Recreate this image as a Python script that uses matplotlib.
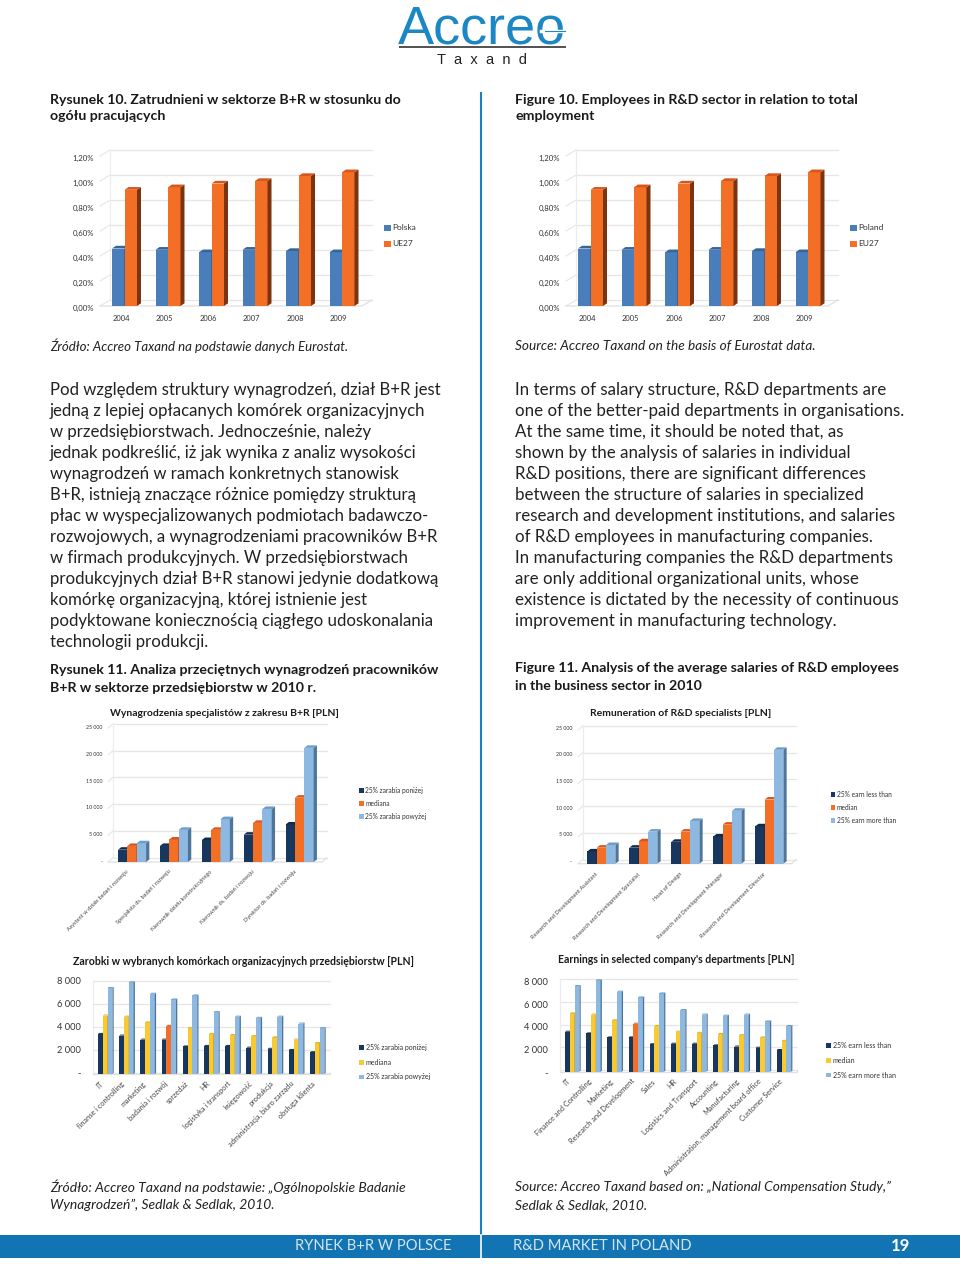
import matplotlib

matplotlib.use("Agg")
import matplotlib.pyplot as plt
from matplotlib.patches import Polygon, Rectangle

W, H = 960, 1264
BODY_FONT = "Lato"

# employment share, %
years = ["2004", "2005", "2006", "2007", "2008", "2009"]
poland_share = [0.46, 0.45, 0.43, 0.45, 0.44, 0.43]
eu27_share = [0.93, 0.95, 0.98, 1.00, 1.04, 1.07]
share_ticks = [0, 0.2, 0.4, 0.6, 0.8, 1.0, 1.2]
share_labels = ["0,00%", "0,20%", "0,40%", "0,60%", "0,80%", "1,00%", "1,20%"]

# salaries by position
positions_pl = ["Asystent w dziale badań i rozwoju", "Specjalista ds. badań i rozwoju",
                "Kierownik działu konstrukcyjnego", "Kierownik ds. badań i rozwoju",
                "Dyrektor ds. badań i rozwoju"]
positions_en = ["Research and Development Assistant", "Research and Development Specialist",
                "Head of Design", "Research and Development Manager",
                "Research and Development Director"]
pos_low = [2300, 3000, 4100, 5100, 7000]
pos_median = [3000, 4200, 6000, 7300, 12000]
pos_high = [3500, 6000, 8000, 9900, 21300]
pos_ticks = [0, 5000, 10000, 15000, 20000, 25000]
pos_labels = ["-", "5 000", "10 000", "15 000", "20 000", "25 000"]

# salaries by department
depts_pl = ["IT", "finanse i controlling", "marketing", "badania i rozwój", "sprzedaż", "HR",
            "logistyka i transport", "księgowość", "produkcja",
            "administracja, biuro zarządu", "obsługa klienta"]
depts_en = ["IT", "Finance and Controlling", "Marketing", "Research and Development", "Sales", "HR",
            "Logistics and Transport", "Accounting", "Manufacturing",
            "Administration, management board office", "Customer Service"]
dept_low = [3500, 3350, 3000, 3000, 2400, 2450, 2450, 2300, 2200, 2100, 1900]
dept_median = [5100, 5000, 4500, 4200, 4000, 3500, 3400, 3300, 3200, 3000, 2700]
dept_high = [7500, 8000, 7000, 6500, 6850, 5400, 5000, 4900, 5000, 4400, 4000]
dept_ticks = [0, 2000, 4000, 6000, 8000]
dept_labels = ["-", "2 000", "4 000", "6 000", "8 000"]

legend_pl = ["25% zarabia poniżej", "mediana", "25% zarabia powyżej"]
legend_en = ["25% earn less than", "median", "25% earn more than"]

# (front, top, side)
BLUE = ("#4a7ebb", "#36659c", "#2b4c75")
ORANGE = ("#f36f26", "#d8561c", "#7a3411")
NAVY = ("#17375e", "#102a4a", "#0e2340")
LIGHT = ("#8db8e2", "#6d9cc6", "#4f7699")
YELLOW = ("#f8c932", "#e0ae22", "#a08020")

LEFT_PL = [
    "Pod względem struktury wynagrodzeń, dział B+R jest",
    "jedną z lepiej opłacanych komórek organizacyjnych",
    "w przedsiębiorstwach. Jednocześnie, należy",
    "jednak podkreślić, iż jak wynika z analiz wysokości",
    "wynagrodzeń w ramach konkretnych stanowisk",
    "B+R, istnieją znaczące różnice pomiędzy strukturą",
    "płac w wyspecjalizowanych podmiotach badawczo-",
    "rozwojowych, a wynagrodzeniami pracowników B+R",
    "w firmach produkcyjnych. W przedsiębiorstwach",
    "produkcyjnych dział B+R stanowi jedynie dodatkową",
    "komórkę organizacyjną, której istnienie jest",
    "podyktowane koniecznością ciągłego udoskonalania",
    "technologii produkcji.",
]
RIGHT_EN = [
    "In terms of salary structure, R&D departments are",
    "one of the better-paid departments in organisations.",
    "At the same time, it should be noted that, as",
    "shown by the analysis of salaries in individual",
    "R&D positions, there are significant differences",
    "between the structure of salaries in specialized",
    "research and development institutions, and salaries",
    "of R&D employees in manufacturing companies.",
    "In manufacturing companies the R&D departments",
    "are only additional organizational units, whose",
    "existence is dictated by the necessity of continuous",
    "improvement in manufacturing technology.",
]


def bars_3d(fig, box, start, spacing, bar_w, series, colors, ticks, tick_labels, cats, opts):
    # box = left, top, right, bottom in image pixels, the bottom is value 0
    left, top, right, bottom = box
    ymax = ticks[-1]
    ax = fig.add_axes([left / W, 1 - bottom / H, (right - left) / W, (bottom - top) / H])
    ax.set_xlim((left - start) / spacing, (right - start) / spacing)
    ax.set_ylim(0, ymax)
    ax.axis("off")
    px_y = ymax / (bottom - top)
    to_x = lambda p: (p - start) / spacing
    bw = bar_w / spacing
    dx, dy = opts["depth"][0] / spacing, opts["depth"][1] * px_y
    wall_l, wall_r = to_x(opts["wall"][0]), to_x(opts["wall"][1])
    back = opts["back"] * px_y
    back_x = opts["back_x"] / spacing

    for t in ticks:
        ax.plot([wall_l, wall_r], [t + back, t + back], color="#e6e6e6", lw=0.9, clip_on=False, zorder=1)
        ax.plot([wall_l - back_x, wall_l], [t, t + back], color="#e6e6e6", lw=0.8, clip_on=False, zorder=1)
    ax.plot([wall_l, wall_l], [back, ymax + back], color="#ececec", lw=0.8, clip_on=False, zorder=1)
    ax.plot([wall_l - back_x, wall_r - back_x, wall_r], [0, 0, back], color="#e0e0e0", lw=0.9, clip_on=False, zorder=1)

    for t, lab in zip(ticks, tick_labels):
        ax.text(to_x(opts["tick_x"]), t - opts["tick_dy"] * px_y, lab, ha="right", va="center",
                fontsize=opts["tick_fs"], color="#333333")

    for k, (vals, col) in enumerate(zip(series, colors)):
        xs = [i + k * bw for i in range(len(vals))]
        ax.bar(xs, vals, width=bw, align="edge", color=col[0], zorder=3 + k, clip_on=False)
        for n, (x, v) in enumerate(zip(xs, vals)):
            c = col
            if opts.get("accent") == (k, n):
                c = ORANGE
                ax.bar([x], [v], width=bw, align="edge", color=c[0], zorder=3 + k, clip_on=False)
            ax.add_patch(Polygon([(x + bw, 0), (x + bw + dx, dy), (x + bw + dx, v + dy), (x + bw, v)],
                                 color=c[2], lw=0, zorder=3 + k, clip_on=False))
            ax.add_patch(Polygon([(x, v), (x + dx, v + dy), (x + bw + dx, v + dy), (x + bw, v)],
                                 color=c[1], lw=0, zorder=3 + k, clip_on=False))

    n_ser = len(series)
    for i, cat in enumerate(cats):
        if opts.get("flat_labels"):
            ax.text(i + n_ser * bw / 2 - 0.08, -opts["cat_dy"] * px_y, cat, ha="center", va="center",
                    fontsize=opts["cat_fs"], color="#333333")
        else:
            ax.text(i + opts["cat_dx"] / spacing, -opts["cat_dy"] * px_y, cat, ha="right", va="top",
                    rotation=45, rotation_mode="anchor", fontsize=opts["cat_fs"], color="#444444")
    return ax


def legend(bg, x, ys, size, labels, colors, fs, gap):
    for y, lab, col in zip(ys, labels, colors):
        bg.add_patch(Rectangle((x, y - size / 2), size, size, color=col[0], lw=0))
        bg.text(x + size + gap, y, lab, va="center", ha="left", fontsize=fs, color="#333333")


def main():
    plt.rcParams["font.family"] = [BODY_FONT, "DejaVu Sans"]
    fig = plt.figure(figsize=(W / 100, H / 100), dpi=100)
    bg = fig.add_axes([0, 0, 1, 1])
    bg.set_xlim(0, W)
    bg.set_ylim(H, 0)
    bg.axis("off")

    # logo
    bg.text(482, 44, "Accreo", ha="center", va="baseline", fontsize=39, color="#1b87c4", family="Liberation Sans")
    bg.plot([541, 567], [31, 31], color="white", lw=2.5, zorder=5)
    bg.plot([545, 565], [31, 31], color="#1b87c4", lw=0.8, zorder=6)
    bg.add_patch(Rectangle((399, 46), 167, 2.2, color="#555555", lw=0))
    bg.text(482, 60, "T  a  x  a  n  d", ha="center", va="center", fontsize=10.5, color="#222222",
            family="Liberation Sans")

    # column divider and footer
    bg.plot([481, 481], [93, 1235], color="#1b82c0", lw=1.5)
    bg.add_patch(Rectangle((0, 1235), W, 23, color="#1274b2", lw=0))
    bg.plot([481, 481], [1235, 1258], color="white", lw=1.2)
    bg.text(295, 1246, "RYNEK B+R W POLSCE", va="center", fontsize=10.6, color="#d5e6f2")
    bg.text(513, 1246, "R&D MARKET IN POLAND", va="center", fontsize=10.6, color="#d5e6f2")
    bg.text(891, 1246, "19", va="center", fontsize=12, color="white", fontweight="bold")

    # headings
    for x, y, s in [(50, 99, "Rysunek 10. Zatrudnieni w sektorze B+R w stosunku do"),
                    (50, 116, "ogółu pracujących"),
                    (515, 99, "Figure 10. Employees in R&D sector in relation to total"),
                    (515, 116, "employment"),
                    (50, 669, "Rysunek 11. Analiza przeciętnych wynagrodzeń pracowników"),
                    (50, 687, "B+R w sektorze przedsiębiorstw w 2010 r."),
                    (515, 667, "Figure 11. Analysis of the average salaries of R&D employees"),
                    (515, 685, "in the business sector in 2010")]:
        bg.text(x, y + 0.5, s, va="center", fontsize=10.2, fontweight="bold", color="#1a1a1a")

    # captions
    for x, y, s, fs in [(50, 346, "Źródło: Accreo Taxand na podstawie danych Eurostat.", 9.5),
                        (515, 346, "Source: Accreo Taxand on the basis of Eurostat data.", 9.85),
                        (50, 1187, "Źródło: Accreo Taxand na podstawie: „Ogólnopolskie Badanie", 10),
                        (50, 1205, "Wynagrodzeń”, Sedlak & Sedlak, 2010.", 10),
                        (515, 1187, "Source: Accreo Taxand based on: „National Compensation Study,”", 9.9),
                        (515, 1205, "Sedlak & Sedlak, 2010.", 9.9)]:
        bg.text(x, y, s, va="center", fontsize=fs, style="italic", color="#222222")

    for i, s in enumerate(LEFT_PL):
        bg.text(50, 390 + 21 * i, s, va="center", fontsize=12.05, color="#222222")
    for i, s in enumerate(RIGHT_EN):
        bg.text(515, 390 + 21 * i, s, va="center", fontsize=12.15, color="#222222")

    # chart 1 pair
    for shift, names in [(0, ["Polska", "UE27"]), (466, ["Poland", "EU27"])]:
        opts = dict(depth=(4, 2.7), wall=(110 + shift, 372 + shift), back=6, back_x=10,
                    tick_x=94 + shift, tick_dy=2.5, tick_fs=5.6, flat_labels=True, cat_dy=12.5, cat_fs=5.4)
        bars_3d(fig, (100 + shift, 156, 372 + shift, 306), 112 + shift, 43.5, 12.5,
                [poland_share, eu27_share], [BLUE, ORANGE], share_ticks, share_labels, years, opts)
        legend(bg, 384 + shift, [228, 244], 6.5, names, [BLUE, ORANGE], 6, 2)

    # chart 2 pair
    opts = dict(depth=(3.3, 2.5), wall=(112.7, 326.7), back=4.2, back_x=4.5, tick_x=102.7, tick_dy=-0.5,
                tick_fs=3.75, cat_dx=8, cat_dy=7, cat_fs=4.1)
    bars_3d(fig, (100, 728, 327, 862), 118, 41.9, 9.35,
            [pos_low, pos_median, pos_high], [NAVY, ORANGE, LIGHT], pos_ticks, pos_labels, positions_pl, opts)
    bg.text(110, 713.5, "Wynagrodzenia specjalistów z zakresu B+R [PLN]", va="center", fontsize=7.5,
            fontweight="bold", color="#1a1a1a")
    legend(bg, 359, [790.7, 803.7, 816.3], 4.8, legend_pl, [NAVY, ORANGE, LIGHT], 4.8, 1.5)

    opts = dict(depth=(3.3, 2.5), wall=(582.7, 796), back=4.2, back_x=4.5, tick_x=572, tick_dy=-2, tick_fs=3.75,
                cat_dx=8, cat_dy=8, cat_fs=4.1)
    bars_3d(fig, (570, 730, 796, 863.7), 587.3, 42, 9.35,
            [pos_low, pos_median, pos_high], [NAVY, ORANGE, LIGHT], pos_ticks, pos_labels, positions_en, opts)
    bg.text(681, 713.5, "Remuneration of R&D specialists [PLN]", ha="center", va="center", fontsize=7.5,
            fontweight="bold", color="#1a1a1a")
    legend(bg, 830.7, [794.7, 807.3, 820.3], 4.6, legend_en, [NAVY, ORANGE, LIGHT], 4.8, 1.5)

    # chart 3 pair
    opts = dict(depth=(1.3, 1.0), wall=(93.3, 330), back=1.5, back_x=0, tick_x=81, tick_dy=-0.3, tick_fs=6.7,
                cat_dx=2, cat_dy=6, cat_fs=5.3, accent=(1, 3))
    bars_3d(fig, (88, 982.3, 330, 1074), 98, 21.2, 4.8,
            [dept_low, dept_median, dept_high], [NAVY, YELLOW, LIGHT], dept_ticks, dept_labels, depts_pl, opts)
    bg.text(72.7, 961.7, "Zarobki w wybranych komórkach organizacyjnych przedsiębiorstw [PLN]", va="center",
            fontsize=7.6, fontweight="bold", color="#1a1a1a")
    legend(bg, 359, [1047.7, 1062.7, 1077], 4.8, legend_pl, [NAVY, YELLOW, LIGHT], 5, 2)

    opts = dict(depth=(1.3, 1.0), wall=(560, 796.7), back=1.5, back_x=0, tick_x=547.7, tick_dy=2, tick_fs=6.7,
                cat_dx=2, cat_dy=6, cat_fs=5.3, accent=(1, 3))
    bars_3d(fig, (555, 980.3, 797, 1071.7), 565, 21.17, 4.8,
            [dept_low, dept_median, dept_high], [NAVY, YELLOW, LIGHT], dept_ticks, dept_labels, depts_en, opts)
    bg.text(558, 959.3, "Earnings in selected company's departments [PLN]", va="center", fontsize=7.6,
            fontweight="bold", color="#1a1a1a")
    legend(bg, 826, [1045.7, 1060.3, 1075], 4.6, legend_en, [NAVY, YELLOW, LIGHT], 5, 2)

    fig.savefig("out.png", dpi=100, facecolor="white")


if __name__ == "__main__":
    main()
